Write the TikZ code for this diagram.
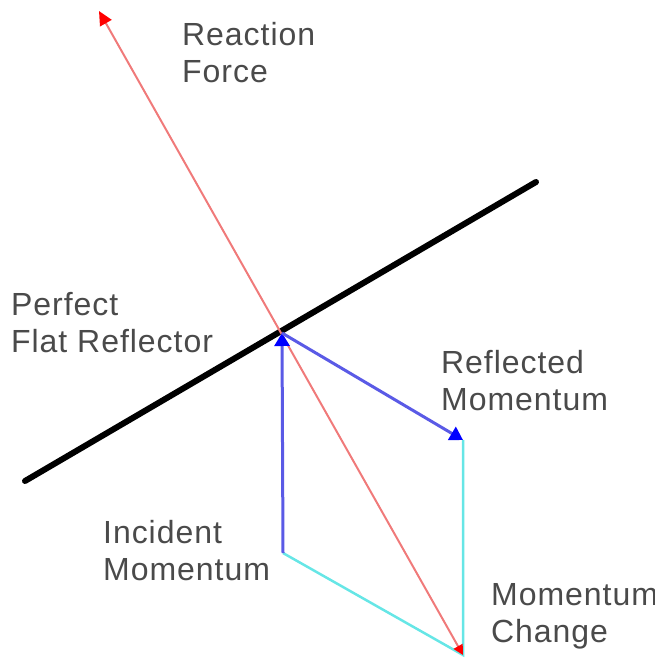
\documentclass[tikz,border=0pt]{standalone}
\usepackage{fontspec}
\setmainfont{Liberation Sans}
\usetikzlibrary{arrows.meta}
\definecolor{rlight}{HTML}{F07A7A}
\definecolor{bmid}{HTML}{5A5AE6}
\definecolor{cmid}{HTML}{66E6E6}
\definecolor{tgray}{HTML}{4A4A4A}
\tikzset{
  lbl/.style={anchor=north west, inner sep=0pt, align=left, text=tgray,
              font=\fontsize{32}{37}\selectfont\addfontfeature{LetterSpace=3}},
  mirror/.style={line width=6pt, black, line cap=round},
  force/.style={line width=2pt, rlight,
                {Triangle[red, length=14pt, width=13pt]}-{Triangle[red, length=10pt, width=10pt]}},
  mom/.style={line width=3pt, bmid, -{Triangle[blue, length=13pt, width=15pt]}},
  delta/.style={line width=2.5pt, cmid},
}
\begin{document}
\begin{tikzpicture}[x=1pt, y=-1pt]
  \useasboundingbox (0,0) rectangle (655,658);

  % points of the picture
  \coordinate (mL) at (25,481);
  \coordinate (mR) at (536,182);
  \coordinate (hit) at (282,333);
  \coordinate (inc) at (283,553);
  \coordinate (refl) at (463,440);
  \coordinate (chg) at (463,655);
  \coordinate (rtop) at (99,11);

  % reflector and reaction force
  \draw[mirror] (mL) -- (mR);
  \draw[delta] (inc) -- (chg) -- (refl);
  \draw[force] (rtop) -- (chg);
  \draw[mom] (inc) -- (hit);
  \draw[mom] (hit) -- (refl);

  % labels
  \node[lbl] (tReact) at (182,22) {Reaction\\Force};
  \node[lbl] (tMirror) at (11,292) {Perfect\\Flat Reflector};
  \node[lbl] (tRefl) at (441,350) {Reflected\\Momentum};
  \node[lbl] (tInc) at (103,520) {Incident\\Momentum};
  \node[lbl] (tChg) at (491,583) {Momentum\\Change};
\end{tikzpicture}
\end{document}
